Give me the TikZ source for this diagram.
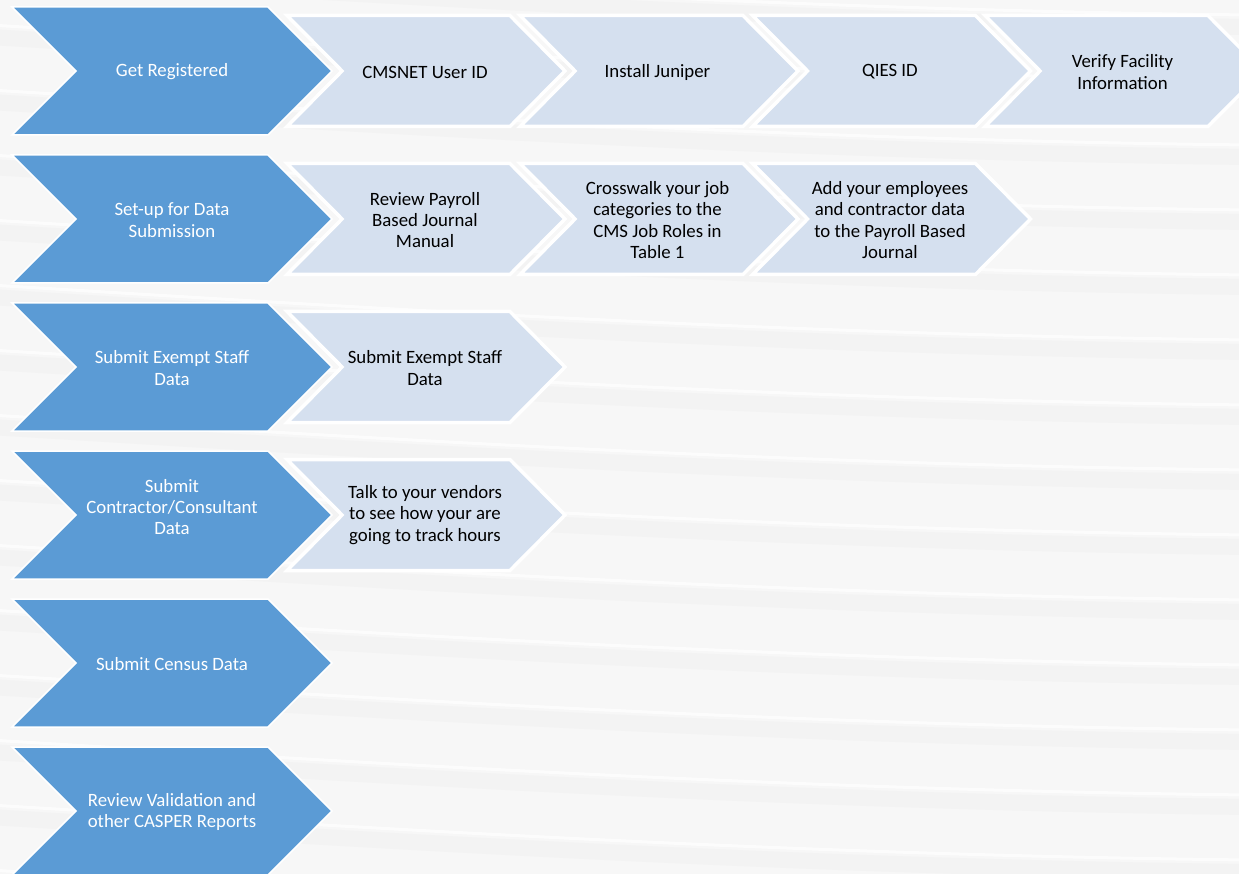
\documentclass[tikz,border=0pt]{standalone}
\usepackage{fontspec}
\setmainfont{Carlito}
\definecolor{stepdark}{RGB}{91,155,213}
\definecolor{steplight}{RGB}{213,224,239}
\definecolor{paper}{RGB}{247,247,247}
\definecolor{streak}{RGB}{241,241,241}

% chevron outline: style, left x, centre y, body width, half height, tip depth
\newcommand{\chevshape}[6]{%
  \path[#1] (#2,#3-#5) -- (#2+#4,#3-#5) -- (#2+#4+#6,#3) -- (#2+#4,#3+#5)
    -- (#2,#3+#5) -- (#2+#6,#3) -- cycle;}

\begin{document}
\begin{tikzpicture}[x=1pt,y=-1pt,
  darkchev/.style={fill=stepdark,draw=white,line width=1.5pt,line join=miter},
  lightchev/.style={fill=steplight,draw=white,line width=3.5pt,line join=miter},
  darklabel/.style={text=white,align=center,inner sep=0pt,yshift=-1pt,
    font=\fontsize{18.8}{21.3}\selectfont},
  lightlabel/.style={text=black,align=center,inner sep=0pt,yshift=-1pt,
    font=\fontsize{18.8}{21.3}\selectfont}]

\useasboundingbox (0,0) rectangle (1239,874);
\clip (0,0) rectangle (1239,874);

% soft streaked paper background
\fill[paper] (0,0) rectangle (1239,874);
\foreach \y in {-40,25,...,920} {
  \draw[streak,line width=16pt,opacity=0.55]
    (-10,\y+12) .. controls (400,\y+37) and (800,\y+62) .. (1250,\y+67);
  \draw[white,line width=3pt,opacity=0.7]
    (-10,\y) .. controls (400,\y+25) and (800,\y+50) .. (1250,\y+55);
}

% main steps (dark chevrons)
\foreach \c in {71,219,367,515,663,811} {
  \chevshape{darkchev}{12}{\c}{256}{64}{64}
}

% sub-steps (light chevrons)
\foreach \x in {287,520,752.5,985} { \chevshape{lightchev}{\x}{71}{223}{55.5}{55} }
\foreach \x in {287,520,752.5}     { \chevshape{lightchev}{\x}{219}{223}{55.5}{55} }
\chevshape{lightchev}{287}{367}{223}{55.5}{55}
\chevshape{lightchev}{287}{515}{223}{55.5}{55}

% row 1
\node[darklabel]  (reg)   at (172,71)    {Get Registered};
\node[lightlabel] (cms)   at (425,71)    {CMSNET User ID};
\node[lightlabel] (jun)   at (657.5,71)  {Install Juniper};
\node[lightlabel] (qies)  at (890,71)    {QIES ID};
\node[lightlabel] (fac)   at (1122.5,71) {Verify Facility\\Information};

% row 2
\node[darklabel]  (setup) at (172,219)   {Set-up for Data\\Submission};
\node[lightlabel] (man)   at (425,219)   {Review Payroll\\Based Journal\\Manual};
\node[lightlabel] (cross) at (657.5,219) {Crosswalk your job\\categories to the\\CMS Job Roles in\\Table 1};
\node[lightlabel] (emp)   at (890,219)   {Add your employees\\and contractor data\\to the Payroll Based\\Journal};

% row 3
\node[darklabel]  (exd)   at (172,367)   {Submit Exempt Staff\\Data};
\node[lightlabel] (exl)   at (425,367)   {Submit Exempt Staff\\Data};

% row 4
\node[darklabel]  (con)   at (172,506)   {Submit\\Contractor/Consultant\\Data};
\node[lightlabel] (ven)   at (425,514)   {Talk to your vendors\\to see how your are\\going to track hours};

% rows 5 and 6
\node[darklabel]  (cen)   at (172,663)   {Submit Census Data};
\node[darklabel]  (val)   at (172,811)   {Review Validation and\\other CASPER Reports};

\end{tikzpicture}
\end{document}
